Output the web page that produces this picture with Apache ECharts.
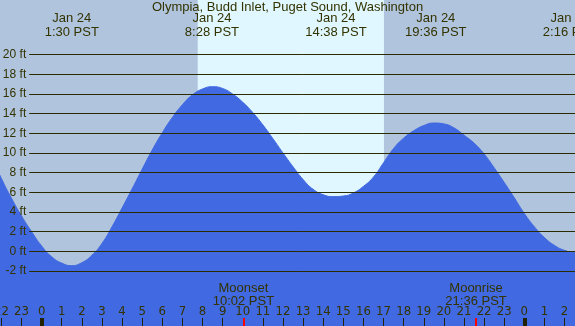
<!DOCTYPE html>
<html>
<head>
<meta charset="utf-8">
<script src="https://cdn.jsdelivr.net/npm/echarts@6/dist/echarts.min.js"></script>
<style>html,body{margin:0;padding:0;}#c{width:575px;height:326px;}</style>
</head>
<body>
<div id="c"></div>
<script>
// ---- data ----
const titleText = 'Olympia, Budd Inlet, Puget Sound, Washington';
const tideHours = [-2.5,-2,-1.5,-1,-0.5,0,0.5,1,1.5,2,2.5,3,3.5,4,4.5,5,5.5,6,6.5,7,7.5,8,8.5,9,9.5,10,10.5,11,11.5,12,12.5,13,13.5,14,14.5,15,15.5,16,16.5,17,17.5,18,18.5,19,19.5,20,20.5,21,21.5,22,22.5,23,23.5,24,24.5,25,25.5,26,26.5,27];
const tideFeet  = [9.6,7.4,5.4,3.6,2.0,0.55,-0.55,-1.2,-1.46,-1.15,-0.4,0.8,2.5,4.4,6.35,8.35,10.3,12.05,13.6,14.9,15.9,16.5,16.73,16.55,15.98,15.15,14.1,12.85,11.45,10.0,8.6,7.3,6.3,5.75,5.56,5.62,5.93,6.6,7.55,9.0,10.45,11.5,12.25,12.78,13.04,12.95,12.55,11.8,11.0,9.9,8.5,7.0,5.45,3.85,2.5,1.4,0.6,0.1,-0.1,0.2];
const gridFeet = [-2,0,2,4,6,8,10,12,14,16,18,20];
const hourTicks = [-2,-1,0,1,2,3,4,5,6,7,8,9,10,11,12,13,14,15,16,17,18,19,20,21,22,23,24,25,26];
const midnightTicks = [0,24];
const extremeHours = [1.5, 8.467, 14.633, 19.6, 26.267];
const extremeLabels = ['Jan 24\n1:30 PST','Jan 24\n8:28 PST','Jan 24\n14:38 PST','Jan 24\n19:36 PST','Jan 25\n2:16 PST'];
const moonHours = [10.033, 21.6];
const moonLabels = ['Moonset\n10:02 PST','Moonrise\n21:36 PST'];
const sunHours = [7.76, 17.02];

const X_MIN = -2.07, X_MAX = 26.52, Y_MIN = -7.59, Y_MAX = 25.54;
const TXT = '#333300';
const FONT = "'Liberation Sans', Arial, sans-serif";
const NARROW = "'Liberation Sans Narrow', 'Arial Narrow', 'DejaVu Sans Condensed', sans-serif";

function nearestLabel(vals, labels, v){
  let best = 0;
  for (let i = 0; i < vals.length; i++) if (Math.abs(vals[i]-v) < Math.abs(vals[best]-v)) best = i;
  return labels[best];
}

const baseX = {type:'value', min:X_MIN, max:X_MAX, z:20, splitLine:{show:false}, axisLine:{show:false, onZero:false}};

const chart = echarts.init(document.getElementById('c'), null, {renderer:'canvas'});
chart.setOption({
  animation:false,
  backgroundColor:'#B0C4DE',
  title:{text:titleText, left:'center', top:0, padding:0, z:30, textStyle:{fontFamily:FONT, fontSize:13, lineHeight:15, fontWeight:'normal', color:TXT}},
  grid:{left:0, right:0, top:0, bottom:0, containLabel:false, outerBoundsMode:'none'},
  xAxis:[
    Object.assign({}, baseX, {position:'bottom',
      axisTick:{show:true, inside:true, length:8, customValues:hourTicks, lineStyle:{color:'#222200', width:1}},
      axisLabel:{show:true, inside:true, margin:8, customValues:hourTicks, fontFamily:NARROW, fontSize:13, color:TXT, hideOverlap:false,
        formatter:function(v){return String(((Math.round(v)%24)+24)%24);}}}),
    Object.assign({}, baseX, {position:'bottom',
      axisTick:{show:true, inside:true, length:8, customValues:midnightTicks, lineStyle:{color:'#222200', width:4}},
      axisLabel:{show:false}}),
    Object.assign({}, baseX, {position:'bottom',
      axisTick:{show:true, inside:true, length:8, customValues:moonHours, lineStyle:{color:'#ff0000', width:2}},
      axisLabel:{show:true, inside:true, margin:18, customValues:moonHours, fontFamily:FONT, fontSize:13, lineHeight:13, color:TXT,
        formatter:function(v){return nearestLabel(moonHours, moonLabels, v);}}}),
    Object.assign({}, baseX, {position:'top',
      axisTick:{show:false},
      axisLabel:{show:true, inside:true, margin:12, customValues:extremeHours, fontFamily:FONT, fontSize:13, lineHeight:13.5, color:TXT,
        formatter:function(v){return nearestLabel(extremeHours, extremeLabels, v);}}})
  ],
  yAxis:{type:'value', min:Y_MIN, max:Y_MAX, show:false, splitLine:{show:false}},
  series:[
    {type:'line', z:1, data:[], silent:true,
     markArea:{silent:true, itemStyle:{color:'#E0F7FF'},
       data:[[{coord:[sunHours[0], Y_MIN]},{coord:[sunHours[1], Y_MAX]}]]}},
    {type:'line', z:2, smooth:0.5, showSymbol:false, silent:true,
     data: tideHours.map((h,i)=>[h, tideFeet[i]]),
     lineStyle:{width:1, color:'#4169E1'},
     itemStyle:{color:'#4169E1'},
     areaStyle:{color:'#4169E1', opacity:1, origin:'start'}},
    {type:'line', z:3, data:[], silent:true,
     markLine:{silent:true, symbol:['none','none'], animation:false,
       lineStyle:{color:'#2b2b00', width:1, type:'solid'},
       label:{show:true, position:'start', distance:3, fontFamily:FONT, fontSize:12, color:TXT,
         formatter:function(p){return p.data.ft + ' ft';}},
       data: gridFeet.map(v=>[{coord:[-0.617, v], ft:v},{coord:[X_MAX, v]}])}}
  ]
});
</script>
</body>
</html>
